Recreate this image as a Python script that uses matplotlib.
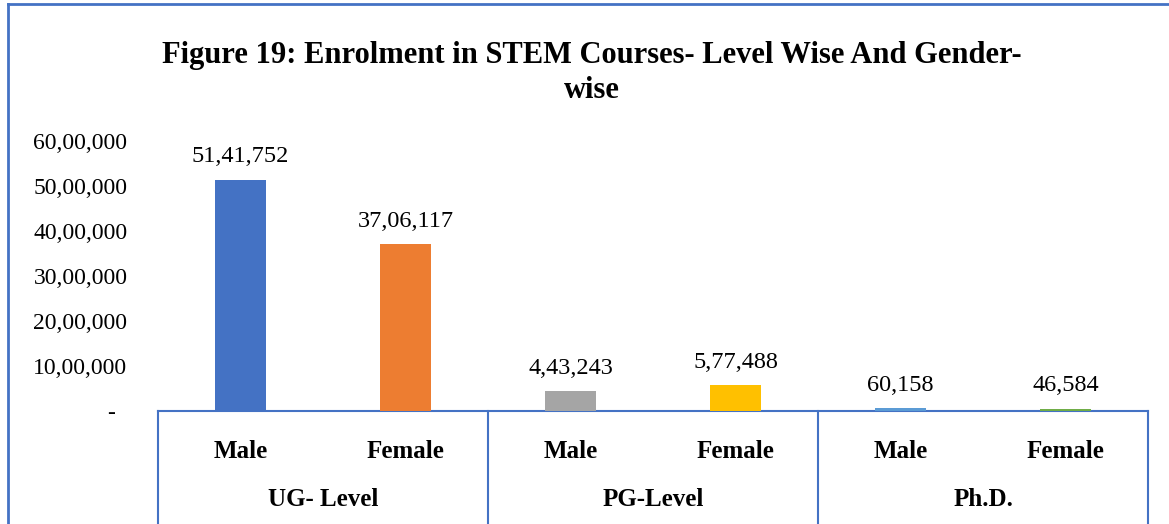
import matplotlib.pyplot as plt
from matplotlib.lines import Line2D

plt.rcParams['font.family'] = ['Liberation Serif', 'DejaVu Serif']

# Data
groups = ["UG- Level", "PG-Level", "Ph.D."]
genders = ["Male", "Female", "Male", "Female", "Male", "Female"]
values = [5141752, 3706117, 443243, 577488, 60158, 46584]
colors = ["#4472C4", "#ED7D31", "#A5A5A5", "#FFC000", "#5B9BD5", "#70AD47"]
yticks = [0, 1000000, 2000000, 3000000, 4000000, 5000000, 6000000]
ytick_labels = ["-  ", "10,00,000", "20,00,000", "30,00,000", "40,00,000",
                "50,00,000", "60,00,000"]


def indian(n):
    s = str(n)
    if len(s) <= 3:
        return s
    head, tail = s[:-3], s[-3:]
    parts = []
    while len(head) > 2:
        parts.insert(0, head[-2:])
        head = head[:-2]
    if head:
        parts.insert(0, head)
    return ",".join(parts) + "," + tail


W, H = 1169, 524
fig = plt.figure(figsize=(W / 100, H / 100), dpi=100)
ax = fig.add_axes([158 / W, 1 - 411 / H, (1148 - 158) / W, (411 - 141) / H])

x = list(range(len(values)))
ax.bar(x, values, width=0.315, color=colors, zorder=3)

for xi, v in zip(x, values):
    ax.annotate(indian(v), (xi, v), xytext=(0, 9), textcoords="offset points",
                ha="center", va="bottom", fontsize=17.5)

ax.set_xlim(-0.5, len(values) - 0.5)
ax.set_ylim(0, 6000000)
ax.set_yticks(yticks)
ax.set_yticklabels(ytick_labels, fontsize=17)
ax.tick_params(axis="y", length=0, pad=22)
ax.set_xticks([])
for s in ["top", "right", "left"]:
    ax.spines[s].set_visible(False)
ax.spines["bottom"].set_color("#4472C4")
ax.spines["bottom"].set_linewidth(1.5)
ax.spines["bottom"].set_zorder(2)

# category labels
trans = ax.get_xaxis_transform()
for xi, g in zip(x, genders):
    ax.text(xi, -41 / 270, g, transform=trans, ha="center", va="center",
            fontsize=18, fontweight="bold")
for i, g in enumerate(groups):
    ax.text(2 * i + 0.5, -89 / 270, g, transform=trans, ha="center", va="center",
            fontsize=18, fontweight="bold")
for b in [-0.5, 1.5, 3.5, 5.5]:
    ax.plot([b, b], [0, -0.5], transform=trans, color="#4472C4", lw=1.5,
            clip_on=False)

# title
fig.text(592 / W, 1 - 55 / H, "Figure 19: Enrolment in STEM Courses- Level Wise And Gender-",
         ha="center", va="center", fontsize=22, fontweight="bold")
fig.text(592 / W, 1 - 90 / H, "wise", ha="center", va="center",
         fontsize=22, fontweight="bold")

# chart border
fig.add_artist(Line2D([8 / W, 8 / W], [0, 1 - 4 / H], color="#4472C4", lw=2))
fig.add_artist(Line2D([8 / W, 1], [1 - 4 / H, 1 - 4 / H], color="#4472C4", lw=2))

fig.savefig("out.png", dpi=100)
